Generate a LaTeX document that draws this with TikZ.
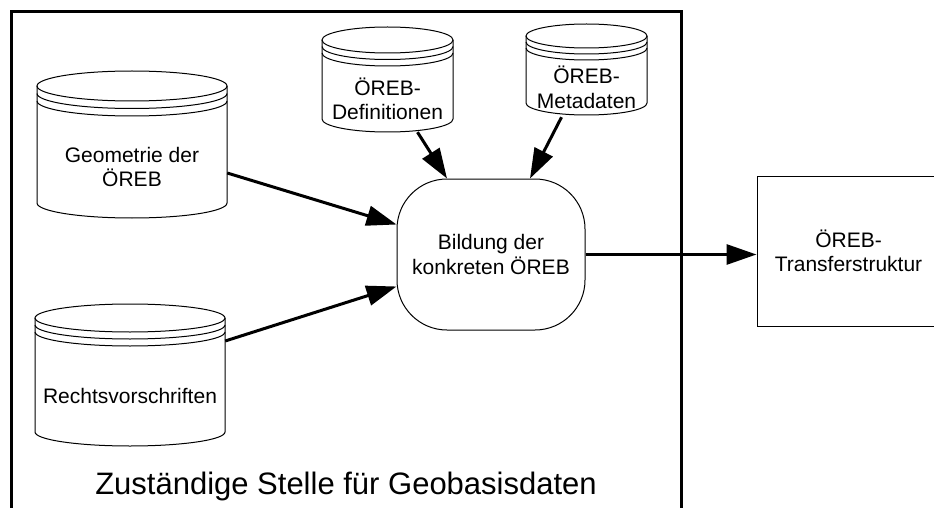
\documentclass[tikz,border=0pt]{standalone}
\usepackage{fontspec}
\setmainfont{Liberation Sans}
\usetikzlibrary{arrows.meta}

\newcommand{\datastore}[7]{%
	\pgfmathsetmacro\dsrx{#4/2}
	\pgfmathsetmacro\dstop{#3+#6}
	\pgfmathsetmacro\dsbot{#3+#5-#6}
	\pgfmathsetmacro\dsgap{#6/2}
	\pgfmathsetmacro\dslid{#3+3*#6}
	\pgfmathsetmacro\dsmid{(\dslid+#3+#5)/2}
	\pgfmathsetmacro\dsht{#3+#5-\dslid}
	\draw[line width=1pt] (#2,\dstop) ellipse [x radius=\dsrx, y radius=#6];
	\draw[line width=1pt] (#2-\dsrx,\dstop) -- (#2-\dsrx,\dsbot) arc[start angle=180,end angle=0,x radius=\dsrx,y radius=#6] -- (#2+\dsrx,\dstop);
	\foreach \k in {1,2}
		\draw[line width=1pt] (#2-\dsrx,\dstop+\k*\dsgap) arc[start angle=180,end angle=0,x radius=\dsrx,y radius=#6];
	\node[align=center,inner sep=0pt,minimum width=#4pt,minimum height=\dsht pt] (#1) at (#2,\dsmid) {#7};
}

\begin{document}
\begin{tikzpicture}[x=1pt,y=-1pt,
		font=\fontsize{21}{24.5}\selectfont,
		flow/.style={line width=3pt,-{Triangle[length=30pt,width=20pt]}},
		process/.style={draw,line width=1pt,rounded corners=50pt,align=center,inner sep=0pt,minimum width=188pt,minimum height=151pt},
		result/.style={draw,line width=1pt,align=center,inner sep=0pt,minimum width=183pt,minimum height=150pt}]
		\useasboundingbox (0,0) rectangle (934,508);
		\draw[line width=3pt] (11,520) -- (11,12) -- (681,12) -- (681,520);
		\datastore{geo}{132}{71}{190}{147}{15}{Geometrie der\\ÖREB}
		\datastore{recht}{130}{304}{190}{142}{14}{Rechtsvorschriften}
		\datastore{defs}{387.5}{27}{131}{105}{13}{ÖREB-\\Definitionen}
		\datastore{meta}{586.5}{24}{121}{91}{12}{ÖREB-\\Metadaten}
		\node[process] (bildung) at (491,254.5) {Bildung der\\konkreten ÖREB};
		\node[result] (transfer) at (848.5,251) {ÖREB-\\Transferstruktur};
		\node[font=\fontsize{31}{36}\selectfont,anchor=base] (stelle) at (346,494) {Zuständige Stelle für Geobasisdaten};
		\draw[flow] ([yshift=-6pt]geo.east) -- ([yshift=30pt]bildung.west);
		\draw[flow] ([yshift=55pt]recht.east) -- ([yshift=-32pt]bildung.west);
		\draw[flow] ([xshift=30pt]defs.south) -- ([xshift=-44pt]bildung.north);
		\draw[flow] ([xshift=-25pt,yshift=-2pt]meta.south) -- ([xshift=39pt]bildung.north);
		\draw[flow] (bildung.east) -- (transfer.west |- bildung.east);
	\end{tikzpicture}
\end{document}
